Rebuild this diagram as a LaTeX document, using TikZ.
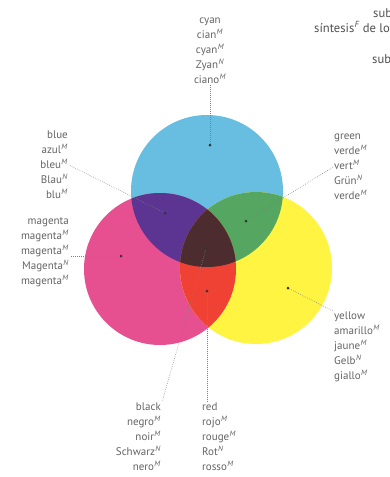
\documentclass[tikz,border=0pt]{standalone}
\usepackage{fontspec}
\setmainfont{PT Sans}
\usepackage{tikz}
\definecolor{cyanc}{RGB}{104,190,224}
\definecolor{magentac}{RGB}{231,80,144}
\definecolor{yellowc}{RGB}{255,244,66}
\definecolor{bluec}{RGB}{92,52,146}
\definecolor{greenc}{RGB}{84,166,96}
\definecolor{redc}{RGB}{240,66,52}
\definecolor{blackc}{RGB}{76,44,46}
\definecolor{labelgray}{RGB}{100,100,100}
\newcommand{\gndr}[1]{\textsuperscript{\kern0.4pt\itshape #1}}

\begin{document}
\begin{tikzpicture}[x=1pt,y=-1pt,
  lbl/.style={font=\fontsize{11}{15}\selectfont, text=labelgray, inner sep=1pt},
  head/.style={font=\fontsize{12.6}{15}\selectfont, text=labelgray!80!black, inner sep=1pt},
  leader/.style={gray, line width=0.6pt, dash pattern=on 0.6pt off 1.4pt},
  spot/.style={circle, fill=black!80, inner sep=0pt, minimum size=3pt}]
  \useasboundingbox[fill=white] (0,0) rectangle (389,477);
  \clip (0,0) rectangle (389,477);
  % the three primaries
  \coordinate (C) at (207,191);
  \coordinate (M) at (160,269);
  \coordinate (Y) at (256,268);
  \fill[cyanc] (C) circle (76pt);
  \fill[magentac] (M) circle (76pt);
  \fill[yellowc] (Y) circle (76pt);
  % overlaps
  \begin{scope}
    \clip (C) circle (76pt);
    \fill[bluec] (M) circle (76pt);
    \fill[greenc] (Y) circle (76pt);
  \end{scope}
  \begin{scope}
    \clip (M) circle (76pt);
    \fill[redc] (Y) circle (76pt);
  \end{scope}
  \begin{scope}
    \clip (C) circle (76pt);
    \clip (M) circle (76pt);
    \fill[blackc] (Y) circle (76pt);
  \end{scope}
  % dots
  \node[spot] (cyandot) at (210,145) {};
  \node[spot] (bluedot) at (165,213) {};
  \node[spot] (magentadot) at (121,256) {};
  \node[spot] (greendot) at (246,221) {};
  \node[spot] (blackdot) at (206,249) {};
  \node[spot] (reddot) at (207,291) {};
  \node[spot] (yellowdot) at (288,288) {};
  % labels
  \node[lbl, anchor=south, align=center] (cyanlbl) at (210,85)
    {cyan\\cian\gndr{M}\\cyan\gndr{M}\\Zyan\gndr{N}\\ciano\gndr{M}};
  \node[lbl, anchor=east, align=right] (bluelbl) at (69,165)
    {blue\\azul\gndr{M}\\bleu\gndr{M}\\Blau\gndr{N}\\blu\gndr{M}};
  \node[lbl, anchor=east, align=right] (magentalbl) at (70,252)
    {magenta\\magenta\gndr{M}\\magenta\gndr{M}\\Magenta\gndr{N}\\magenta\gndr{M}};
  \node[lbl, anchor=west, align=left] (greenlbl) at (333,167)
    {green\\verde\gndr{M}\\vert\gndr{M}\\Grün\gndr{N}\\verde\gndr{M}};
  \node[lbl, anchor=north west, align=left] (yellowlbl) at (333,311)
    {yellow\\amarillo\gndr{M}\\jaune\gndr{M}\\Gelb\gndr{N}\\giallo\gndr{M}};
  \node[lbl, anchor=north east, align=right] (blacklbl) at (162,402)
    {black\\negro\gndr{M}\\noir\gndr{M}\\Schwarz\gndr{N}\\nero\gndr{M}};
  \node[lbl, anchor=north west, align=left] (redlbl) at (201,402)
    {red\\rojo\gndr{M}\\rouge\gndr{M}\\Rot\gndr{N}\\rosso\gndr{M}};
  % cut-off heading at the right edge
  \node[head, anchor=west] (head1) at (372,13) {sub};
  \node[head, anchor=west] (head2) at (313,27) {síntesis\gndr{F} de lo};
  \node[head, anchor=west] (head3) at (371,59) {sub};
  % leaders
  \draw[leader] (cyandot) -- (cyanlbl);
  \draw[leader] (bluedot) -- (bluelbl.east);
  \draw[leader] (magentadot) -- (magentadot -| magentalbl.east);
  \draw[leader] (greendot) -- (greenlbl.west);
  \draw[leader] (yellowdot) -- (yellowlbl.north west);
  \draw[leader] (blackdot) -- (blacklbl.north east);
  \draw[leader] (reddot) -- (reddot |- redlbl.north);
\end{tikzpicture}
\end{document}
